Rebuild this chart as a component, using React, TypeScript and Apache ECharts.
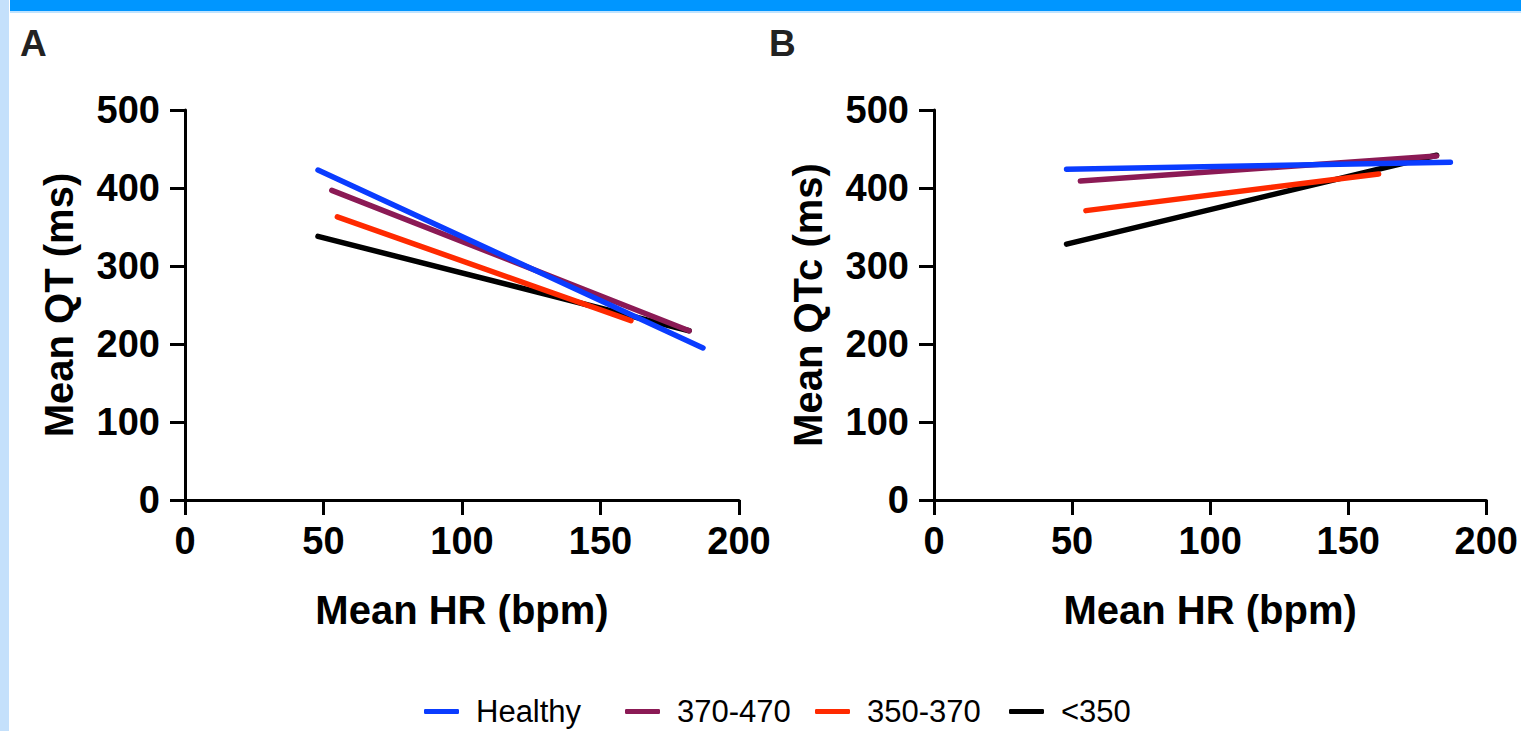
import React, { useEffect, useRef } from "react";
import * as echarts from "echarts";

// Group names (legend)
const groups = ["Healthy", "370-470", "350-370", "<350"];
const groupColors = ["#0A3CFF", "#8B1A55", "#FF2A00", "#000000"];

// Mean HR range (bpm) of each regression line: [start, end]
const hrHealthy = [48, 187];
const hr370_470 = [53, 182];
const hr350_370 = [55, 161];
const hrLt350 = [48, 182];

// Panel A: Mean QT (ms) at start/end
const qtHealthy = [423, 195];
const qt370_470 = [397, 217];
const qt350_370 = [363, 230];
const qtLt350 = [338, 217];

// Panel B: Mean QTc (ms) at start/end
const qtcHealthy = [424, 433];
const qtc370_470 = [409, 441];
const qtc350_370 = [371, 418];
const qtcLt350 = [328, 442];

const xTicks = { min: 0, max: 200, interval: 50 };
const yTicks = { min: 0, max: 500, interval: 100 };

const FONT = "Liberation Sans, Arial, Helvetica, sans-serif";

export default function App() {
  const ref = useRef<HTMLDivElement>(null);

  useEffect(() => {
    if (!ref.current) return;
    const chart = echarts.init(ref.current, undefined, { renderer: "svg" });

    const hrs = [hrHealthy, hr370_470, hr350_370, hrLt350];
    const qts = [qtHealthy, qt370_470, qt350_370, qtLt350];
    const qtcs = [qtcHealthy, qtc370_470, qtc350_370, qtcLt350];

    const pts = (xs: number[], ys: number[]) => xs.map((x, i) => [x, ys[i]]);

    // draw order: black, red, purple, blue (blue on top)
    const order = [3, 2, 1, 0];
    const series: any[] = [];
    [0, 1].forEach((panel) => {
      order.forEach((g) => {
        series.push({
          type: "line",
          name: groups[g],
          xAxisIndex: panel,
          yAxisIndex: panel,
          data: pts(hrs[g], panel === 0 ? qts[g] : qtcs[g]),
          showSymbol: false,
          symbol: "none",
          color: groupColors[g],
          lineStyle: { width: 5.5, color: groupColors[g], cap: "round" },
          silent: true,
        });
      });
    });

    const axisCommon = {
      axisLine: { show: true, lineStyle: { color: "#000", width: 3 } },
      axisTick: { show: true, length: 15, lineStyle: { color: "#000", width: 3 } },
      splitLine: { show: false },
    };

    const xAxis = (gridIndex: number) => ({
      type: "value",
      gridIndex,
      ...xTicks,
      ...axisCommon,
      name: "Mean HR (bpm)",
      nameLocation: "middle",
      nameGap: 90,
      nameTextStyle: { fontFamily: FONT, fontWeight: "bold", fontSize: 40, color: "#000" },
      axisLabel: { fontFamily: FONT, fontWeight: "bold", fontSize: 38, color: "#000", margin: 22 },
    });

    const yAxis = (gridIndex: number, name: string) => ({
      type: "value",
      gridIndex,
      ...yTicks,
      ...axisCommon,
      name,
      nameLocation: "middle",
      nameGap: 106,
      nameTextStyle: { fontFamily: FONT, fontWeight: "bold", fontSize: 40, color: "#000" },
      axisLabel: { fontFamily: FONT, fontWeight: "bold", fontSize: 38, color: "#000", margin: 25 },
    });

    const legendLefts = [424, 625, 815, 1009];
    const legends = groups.map((g, i) => ({
      data: [g],
      left: legendLefts[i],
      top: 696,
      orient: "horizontal",
      icon: "roundRect",
      itemWidth: 35,
      itemHeight: 5,
      padding: 0,
      selectedMode: false,
      textStyle: { fontFamily: FONT, fontSize: 31, color: "#000", padding: [0, 0, 0, 12] },
    }));

    chart.setOption({
      animation: false,
      backgroundColor: "#fff",
      grid: [
        { left: 185, top: 110, width: 554, height: 390 },
        { left: 934, top: 110, width: 553, height: 390 },
      ],
      xAxis: [xAxis(0), xAxis(1)],
      yAxis: [yAxis(0, "Mean QT (ms)"), yAxis(1, "Mean QTc (ms)")],
      legend: legends,
      series,
      graphic: [
        { type: "rect", left: 0, top: 0, shape: { width: 9, height: 731 }, style: { fill: "#C4E0FB" }, silent: true },
        { type: "rect", left: 10, top: 0, shape: { width: 1511, height: 11 }, style: { fill: "#0096FF" }, silent: true },
        { type: "rect", left: 10, top: 11, shape: { width: 1511, height: 2 }, style: { fill: "#BFE3FF" }, silent: true },
        {
          type: "text",
          left: 20,
          top: 25,
          style: { text: "A", font: `bold 37px ${FONT}`, fill: "#222" },
        },
        {
          type: "text",
          left: 769,
          top: 25,
          style: { text: "B", font: `bold 37px ${FONT}`, fill: "#222" },
        },
      ],
    });

    return () => chart.dispose();
  }, []);

  return (
    <div
      ref={ref}
      style={{ position: "fixed", left: 0, top: 0, width: 1521, height: 731, background: "#fff" }}
    />
  );
}
